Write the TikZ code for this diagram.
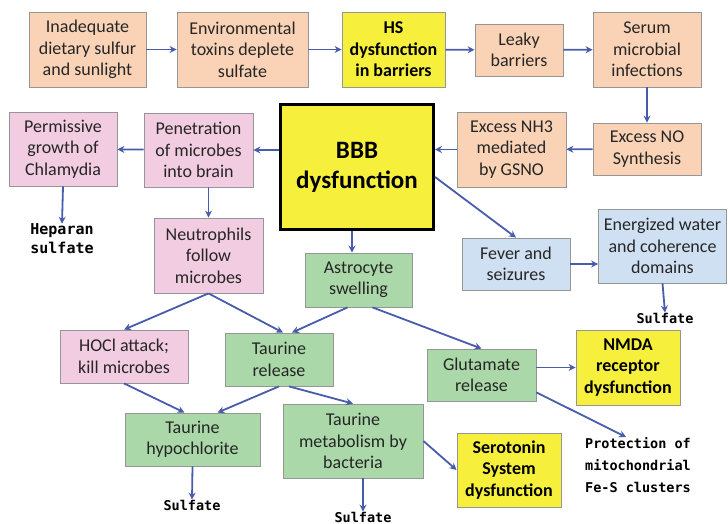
\documentclass[tikz,border=0pt]{standalone}
\usepackage{fontspec}
\setmainfont{Carlito}
\newfontfamily\handfont{DejaVu Sans Mono}
\usetikzlibrary{arrows.meta,calc}
\definecolor{peach}{RGB}{250,211,182}
\definecolor{pinkb}{RGB}{242,204,224}
\definecolor{greenb}{RGB}{170,216,168}
\definecolor{blueb}{RGB}{207,224,242}
\definecolor{yell}{RGB}{246,240,60}
\definecolor{arrc}{RGB}{72,92,172}
\definecolor{bord}{RGB}{150,150,150}
\begin{document}
\begin{tikzpicture}[x=1pt,y=-1pt,
  box/.style={draw=bord, line width=0.8pt, align=center, inner sep=1pt,
    font=\fontsize{18}{21.5}\selectfont, text=black!85},
  peachbox/.style={box, fill=peach},
  pinkbox/.style={box, fill=pinkb},
  greenbox/.style={box, fill=greenb},
  bluebox/.style={box, fill=blueb},
  yellbox/.style={box, fill=yell, font=\fontsize{18}{21.5}\selectfont\bfseries, text=black},
  hand/.style={font=\fontsize{13.5}{22}\selectfont\handfont\bfseries, align=center, inner sep=0pt},
  arr/.style={draw=arrc, line width=1.8pt, -{Stealth[length=7pt,width=7pt]}},
  wh/.style 2 args={minimum width=#1, minimum height=#2}
]
\useasboundingbox (0,0) rectangle (728,524);
% top row
\node[peachbox, wh={117pt}{75pt}] (n1) at (87.5,49.5) {Inadequate\\dietary sulfur\\and sunlight};
\node[peachbox, wh={131pt}{75pt}] (n2) at (242.5,49.5) {Environmental\\toxins deplete\\sulfate};
\node[yellbox, wh={103pt}{75pt}] (n3) at (393.5,49.5) {HS\\dysfunction\\in barriers};
\node[peachbox, wh={88pt}{52pt}] (n4) at (519,50) {Leaky\\barriers};
\node[peachbox, wh={108pt}{75pt}] (n5) at (647,49.5) {Serum\\microbial\\infections};
% second row
\node[peachbox, wh={108pt}{52pt}] (exno) at (647,149) {Excess NO\\Synthesis};
\node[peachbox, wh={109pt}{75pt}] (nh3) at (511.5,149.5) {Excess NH3\\mediated\\by GSNO};
\node[box, fill=yell, draw=black, line width=3pt, wh={153pt}{125pt},
  font=\fontsize{25}{30}\selectfont\bfseries, text=black] (bbb) at (357,167) {BBB\\dysfunction};
\node[pinkbox, wh={109pt}{74pt}] (pen) at (198.5,150) {Penetration\\of microbes\\into brain};
\node[pinkbox, wh={108pt}{74pt}] (perm) at (63,149) {Permissive\\growth of\\Chlamydia};
\node[hand, font=\fontsize{15}{19}\selectfont\handfont\bfseries] (hep) at (62,239) {Heparan\\sulfate};
% third row
\node[pinkbox, wh={109pt}{75pt}] (neut) at (208.5,255.5) {Neutrophils\\follow\\microbes};
\node[greenbox, wh={107pt}{54pt}] (astro) at (358.5,280) {Astrocyte\\swelling};
\node[bluebox, wh={108pt}{52pt}] (fever) at (516,264) {Fever and\\seizures};
\node[bluebox, wh={128pt}{74pt}] (energ) at (662.5,246) {Energized water\\and coherence\\domains};
\node[hand] (s1) at (665,318) {Sulfate};
% fourth row
\node[pinkbox, wh={128pt}{53pt}] (hocl) at (124,356.5) {HOCl attack;\\kill microbes};
\node[greenbox, wh={108pt}{53pt}] (trel) at (279,359.5) {Taurine\\release};
\node[greenbox, wh={109pt}{52pt}] (glut) at (481.5,375) {Glutamate\\release};
\node[yellbox, wh={104pt}{75pt}] (nmda) at (628,367.5) {NMDA\\receptor\\dysfunction};
% bottom row
\node[greenbox, wh={135pt}{53pt}] (thyp) at (192.5,439.5) {Taurine\\hypochlorite};
\node[greenbox, wh={140pt}{74pt}] (tmet) at (353,441) {Taurine\\metabolism by\\bacteria};
\node[yellbox, wh={104pt}{74pt}] (sero) at (509,470) {Serotonin\\System\\dysfunction};
\node[hand, align=left, anchor=north west] (prot) at (585,437) {Protection of\\mitochondrial\\Fe-S clusters};
\node[hand] (s2) at (192,505) {Sulfate};
\node[hand] (s3) at (363,517) {Sulfate};
% arrows
\draw[arr] (n1) -- (n2);
\draw[arr] (n2) -- (n3);
\draw[arr] (n3) -- (n4);
\draw[arr] (n4) -- (n5);
\draw[arr] (n5) -- (exno);
\draw[arr] (exno) -- (nh3);
\draw[arr] (nh3.west) -- (bbb.east |- nh3.west);
\draw[arr] (bbb.west |- pen.east) -- (pen.east);
\draw[arr] (pen) -- (perm);
\draw[arr] (perm.south) -- (hep.north);
\draw[arr] (neut.north |- pen.south) -- (neut.north);
\draw[arr] ($(bbb.south)+(-5,0)$) -- ($(astro.north)+(-6.5,0)$);
\draw[arr] ($(bbb.east)+(0,10)$) -- (fever.north);
\draw[arr] (fever.east) -- (energ.west |- fever.east);
\draw[arr] (energ.south) -- (s1.north);
\draw[arr] (neut.south) -- (hocl.north);
\draw[arr] (neut.south) -- ($(trel.north)+(4,0)$);
\draw[arr] ($(astro.south)+(-11,0)$) -- ($(trel.north)+(13,0)$);
\draw[arr] ($(astro.south)+(14,0)$) -- (glut.north);
\draw[arr] (hocl.south) -- ($(thyp.north)+(-8,0)$);
\draw[arr] (trel.south) -- ($(thyp.north)+(25,0)$);
\draw[arr] ($(trel.south)+(10,0)$) -- (tmet.north);
\draw[arr] (glut.east |- nmda.west) -- (nmda.west);
\draw[arr] ($(glut.south east)+(0,-9)$) -- ($(prot.north west)+(41,0)$);
\draw[arr] (tmet.east) -- (sero.west);
\draw[arr] (thyp.south) -- (s2.north);
\draw[arr] (s3.north |- tmet.south) -- (s3.north);
\end{tikzpicture}
\end{document}
